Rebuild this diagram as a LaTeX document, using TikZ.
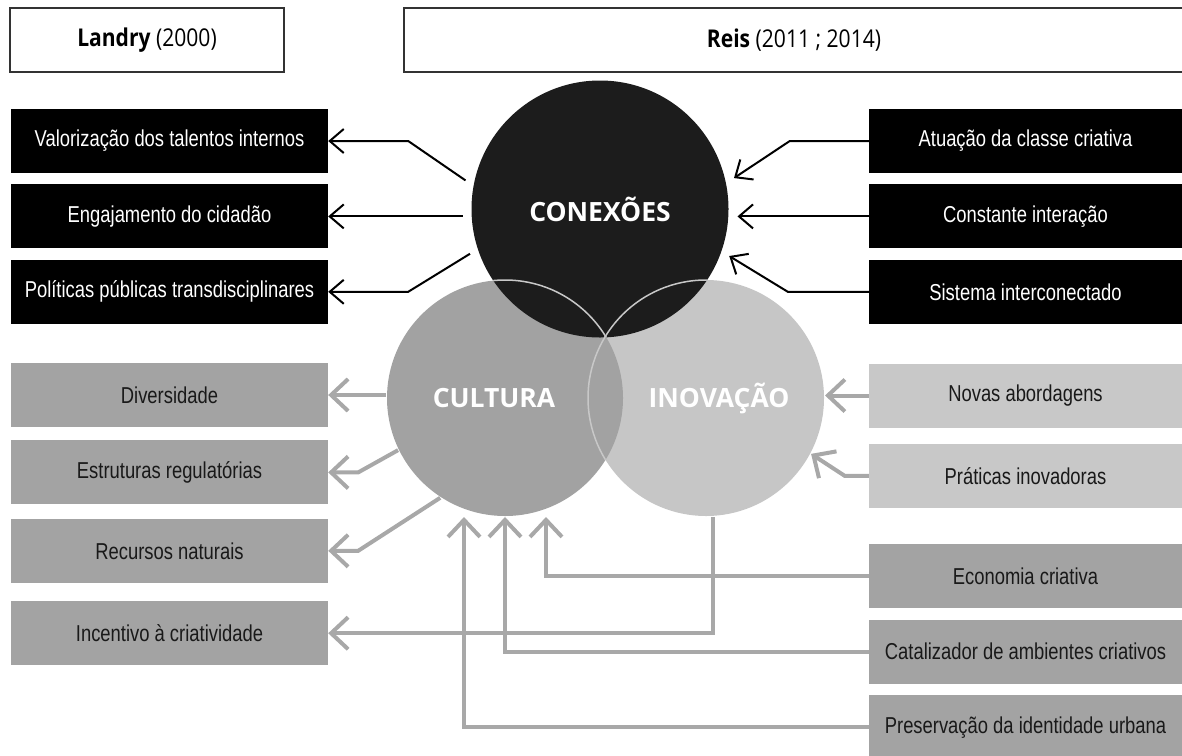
\documentclass[tikz,border=0pt]{standalone}
\usepackage{fontspec}
\setmainfont{Liberation Sans}
\newfontfamily\boxfont[FakeStretch=0.8]{Liberation Sans}
\newfontfamily\headfont[FakeStretch=0.86]{Open Sans}
\newfontfamily\ringfont{Open Sans}
\usetikzlibrary{arrows.meta,positioning}

\definecolor{ringblack}{HTML}{1C1C1C}
\definecolor{culturagray}{HTML}{A2A2A2}
\definecolor{inovagray}{HTML}{C6C6C6}
\definecolor{boxgray}{HTML}{A3A3A3}
\definecolor{lightgray}{HTML}{C8C8C8}
\definecolor{arrowgray}{HTML}{A8A8A8}

\begin{document}
\begin{tikzpicture}[x=1pt,y=-1pt]
\tikzstyle{hdr}=[draw=black!80,line width=2pt,minimum height=64pt,inner sep=0pt,font=\headfont\fontsize{24.5}{28}\selectfont]
\tikzstyle{darkbox}=[fill=black,text=white,minimum width=317pt,minimum height=64pt,inner sep=0pt,font=\boxfont\fontsize{23}{26}\selectfont]
\tikzstyle{graybox}=[darkbox,fill=boxgray,text=black!90]
\tikzstyle{lightbox}=[graybox,fill=lightgray]
\tikzstyle{ring}=[circle,inner sep=0pt,text=white,font=\ringfont\bfseries\fontsize{26.5}{30}\selectfont]
\tikzstyle{ringlabel}=[text=white,inner sep=0pt,font=\ringfont\bfseries\fontsize{26.5}{30}\selectfont]
\tikzstyle{blk}=[draw=black,line width=2pt,-{Straight Barb[length=14pt,width=24pt]}]
\tikzstyle{gry}=[draw=arrowgray,line width=4pt,-{Straight Barb[length=17pt,width=32pt]}]
\useasboundingbox (0,0) rectangle (1182,755);

% authors
\node[hdr,minimum width=274pt] (landry) at (147,40) {\textbf{Landry} (2000)};
\node[hdr,minimum width=780pt] (reis) at (794,40) {\textbf{Reis} (2011 ; 2014)};

% the three circles
\node[ring,fill=inovagray,minimum size=236pt,outer sep=1pt,
  label={[ringlabel,xshift=13pt]center:INOVAÇÃO}] (inov) at (706,398) {};
\node[ring,fill=culturagray,minimum size=236pt,outer sep=1pt,
  label={[ringlabel,xshift=-11pt]center:CULTURA}] (cult) at (505,398) {};
\node[ring,fill=ringblack,minimum size=257pt,outer sep=9pt] (con) at (600,209) {CONEXÕES};
\begin{scope}
  \clip (con.center) circle[radius=128.5];
  \draw[lightgray,line width=1.5pt] (cult.center) circle[radius=118];
  \draw[lightgray,line width=1.5pt] (inov.center) circle[radius=118];
\end{scope}
\begin{scope}
  \clip (cult.center) circle[radius=118];
  \draw[lightgray,line width=1.5pt] (inov.center) circle[radius=118];
\end{scope}

% Landry
\node[darkbox] (val) at (169.5,141) {Valorização dos talentos internos};
\node[darkbox,below=11pt of val] (eng) {Engajamento do cidadão};
\node[darkbox,below=11pt of eng] (pol) {Políticas públicas transdisciplinares};
\node[graybox] (div) at (169.5,395) {Diversidade};
\node[graybox,below=13pt of div] (est) {Estruturas regulatórias};
\node[graybox,below=14pt of est] (rec) {Recursos naturais};
\node[graybox,below=18pt of rec] (inc) {Incentivo à criatividade};

% Reis
\node[darkbox,minimum width=313pt] (atu) at (1025.5,141) {Atuação da classe criativa};
\node[darkbox,minimum width=313pt,below=11pt of atu] (cst) {Constante interação};
\node[darkbox,minimum width=313pt,below=11pt of cst] (sis) {Sistema interconectado};
\node[lightbox,minimum width=313pt] (nov) at (1025.5,395.5) {Novas abordagens};
\node[lightbox,minimum width=313pt,below=16pt of nov] (pra) {Práticas inovadoras};
\node[graybox,minimum width=313pt,below=36pt of pra] (eco) {Economia criativa};
\node[graybox,minimum width=313pt,below=11pt of eco] (cat) {Catalizador de ambientes criativos};
\node[graybox,minimum width=313pt,below=11pt of cat] (pre) {Preservação da identidade urbana};

% conexoes
\draw[blk] (con.168) -- ([xshift=80pt]val.east) -- (val.east);
\draw[blk] (eng.east -| con.west) -- (eng.east);
\draw[blk] (con.199) -- ([xshift=80pt]pol.east) -- (pol.east);
\draw[blk] (atu.west) -- ([xshift=-79pt]atu.west) -- (con.13);
\draw[blk] (cst.west) -- (cst.west -| con.east);
\draw[blk] (sis.west) -- ([xshift=-81pt]sis.west) -- (con.340);

% cultura / inovacao
\draw[gry] (div.east -| cult.west) -- (div.east);
\draw[gry] (cult.206) -- ([xshift=30pt]est.east) -- (est.east);
\draw[gry] (cult.237) -- ([xshift=30pt]rec.east) -- (rec.east);
\draw[gry] ([xshift=7pt]inov.south) |- (inc.east);
\draw[gry] (nov.west) -- (nov.west -| inov.east);
\draw[gry] (pra.west) -- ([xshift=-24pt]pra.west) -- (inov.332);
\draw[gry] (eco.west) -| ([xshift=41pt]cult.south);
\draw[gry] (cat.west) -| (cult.south);
\draw[gry] (pre.west) -| ([xshift=-41pt]cult.south);
\end{tikzpicture}
\end{document}
